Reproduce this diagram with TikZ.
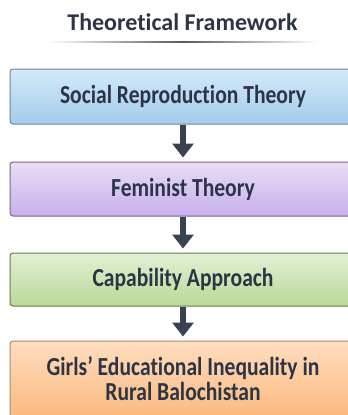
\documentclass[tikz,border=0pt]{standalone}
\usepackage{fontspec}
\setmainfont[Ligatures=NoCommon]{Carlito}
\newfontfamily\stagefont[Ligatures=NoCommon, FakeStretch=0.83]{Carlito}
\usetikzlibrary{arrows.meta}
\definecolor{inkdark}{HTML}{2C3546}
\definecolor{arrowdark}{HTML}{3A4250}
\definecolor{blueTop}{HTML}{D3E9F9}
\definecolor{blueBot}{HTML}{A3CCEE}
\definecolor{blueEdge}{HTML}{6E8296}
\definecolor{lilacTop}{HTML}{E9DDF7}
\definecolor{lilacBot}{HTML}{C7AFEB}
\definecolor{lilacEdge}{HTML}{75688A}
\definecolor{greenTop}{HTML}{E2F0D5}
\definecolor{greenBot}{HTML}{B8DA97}
\definecolor{greenEdge}{HTML}{5F7A55}
\definecolor{orangeTop}{HTML}{FFDDBE}
\definecolor{orangeBot}{HTML}{FAB980}
\definecolor{orangeEdge}{HTML}{A88A72}
\tikzset{
  stage/.style={rectangle, rounded corners=3pt, minimum width=346pt, align=center,
    inner sep=0pt, font=\stagefont\bfseries\fontsize{26}{27}\selectfont, text=inkdark, line width=1pt},
  flowarrow/.style={draw=arrowdark, line width=6pt,
    -{Triangle[width=21pt,length=14pt]}, shorten >=4pt}
}
\begin{document}
\begin{tikzpicture}[x=1pt,y=-1pt]
  \clip (0,0) rectangle (348,415);
  \fill[white] (0,0) rectangle (348,415);

  % heading and its rule
  \node (title) at (182.5,22) [font=\bfseries\fontsize{24}{28}\selectfont, text=inkdark] {Theoretical Framework};
  \shade[left color=white, right color=white, middle color=black!65] (48,41.4) rectangle (318,42.6);

  % the four stages
  \node (srt) at (183,96.5) [stage, minimum height=55pt, draw=blueEdge,
    top color=blueTop, bottom color=blueBot] {Social Reproduction Theory};
  \node (fem) at (183,189) [stage, minimum height=54pt, draw=lilacEdge,
    top color=lilacTop, bottom color=lilacBot] {Feminist Theory};
  \node (cap) at (183,279.5) [stage, minimum height=53pt, draw=greenEdge,
    top color=greenTop, bottom color=greenBot] {Capability Approach};
  \node (out) at (183,379) [stage, minimum height=76pt, draw=orangeEdge,
    top color=orangeTop, bottom color=orangeBot] {Girls’ Educational Inequality in\\[-2pt]Rural Balochistan};

  % links between stages
  \draw[flowarrow] (srt.south) -- (fem.north);
  \draw[flowarrow] (fem.south) -- (cap.north);
  \draw[flowarrow] (cap.south) -- (out.north);
\end{tikzpicture}
\end{document}
